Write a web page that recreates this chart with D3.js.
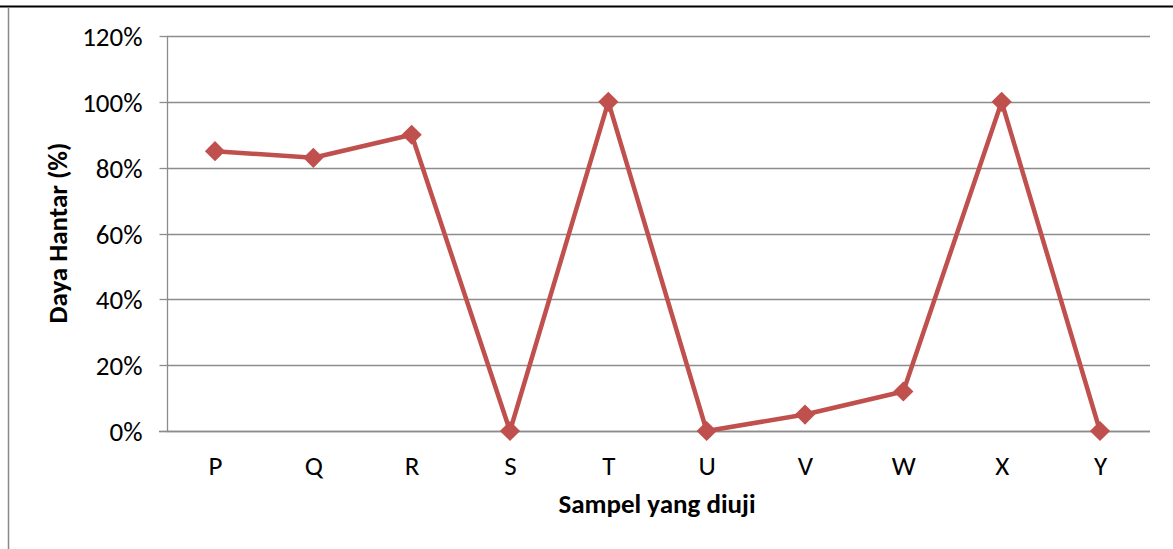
<!DOCTYPE html>
<html><head><meta charset="utf-8">
<script src="https://cdn.jsdelivr.net/npm/d3@7"></script>
<style>body{margin:0;background:#fff}svg{display:block}</style>
</head><body>
<svg id="c" width="1173" height="549"></svg>
<script>
const categories = ["P","Q","R","S","T","U","V","W","X","Y"];
const values = [0.85,0.83,0.90,0,1.00,0,0.05,0.12,1.00,0];
const yTicks = [0,0.2,0.4,0.6,0.8,1.0,1.2];
const xTitle = "Sampel yang diuji";
const yTitle = "Daya Hantar (%)";

const svg = d3.select("#c");
const font = "Carlito, 'Open Sans', 'Liberation Sans', sans-serif";
// frame
svg.append("line").attr("x1",0).attr("x2",1173).attr("y1",6.5).attr("y2",6.5).attr("stroke","#000").attr("stroke-width",2);
svg.append("line").attr("x1",8.5).attr("x2",8.5).attr("y1",7).attr("y2",549).attr("stroke","#888").attr("stroke-width",1.5);

const x = d3.scalePoint().domain(categories).range([215,1100]);
const y = d3.scaleLinear().domain([0,1.2]).range([431,36]);
const left = 167, right = 1150;

// gridlines
svg.append("g").selectAll("line").data(yTicks).join("line")
  .attr("x1",left).attr("x2",right).attr("y1",d=>Math.round(y(d))+0.5).attr("y2",d=>Math.round(y(d))+0.5)
  .attr("stroke","#8c8c8c").attr("stroke-width",1.3);

// y axis
const ya = svg.append("g").attr("transform",`translate(${left+0.5},0)`)
  .call(d3.axisLeft(y).tickValues(yTicks).tickFormat(d3.format(".0%")).tickSize(8).tickPadding(17));
ya.select(".domain").attr("stroke","#8c8c8c").attr("stroke-width",1.3).attr("d",`M0,${y(1.2)}V${y(0)+0.5}`);
ya.selectAll(".tick line").attr("stroke","#8c8c8c").attr("stroke-width",1.3);
ya.selectAll(".tick text").attr("font-family",font).attr("font-size",27).attr("fill","#000").attr("dy","0.36em");
ya.selectAll(".tick").attr("transform",d=>`translate(0,${Math.round(y(d))+0.5})`);

// x axis
const xa = svg.append("g").attr("transform",`translate(0,${Math.round(y(0))+0.5})`)
  .call(d3.axisBottom(x).tickSize(0).tickPadding(24));
xa.select(".domain").attr("stroke","#8c8c8c").attr("stroke-width",1.3).attr("d",`M${left-8},0H${right}`);
xa.selectAll(".tick text").attr("font-family",font).attr("font-size",27).attr("fill","#000");

// line
svg.append("path").datum(values)
  .attr("fill","none").attr("stroke","#C0504D").attr("stroke-width",4.5).attr("stroke-linejoin","round")
  .attr("d",d3.line().x((d,i)=>x(categories[i])).y(d=>y(d)));

svg.append("g").selectAll("path").data(values).join("path")
  .attr("d",d3.symbol(d3.symbolSquare, 205))
  .attr("transform",(d,i)=>`translate(${x(categories[i])},${y(d)}) rotate(45)`)
  .attr("fill","#C0504D");

// titles
svg.append("text").attr("x",657).attr("y",513).attr("text-anchor","middle")
  .attr("font-family",font).attr("font-size",27).attr("font-weight","bold").text(xTitle);
svg.append("text").attr("transform","translate(67,233) rotate(-90)").attr("text-anchor","middle")
  .attr("font-family",font).attr("font-size",27).attr("font-weight","bold").text(yTitle);
</script>
</body></html>
